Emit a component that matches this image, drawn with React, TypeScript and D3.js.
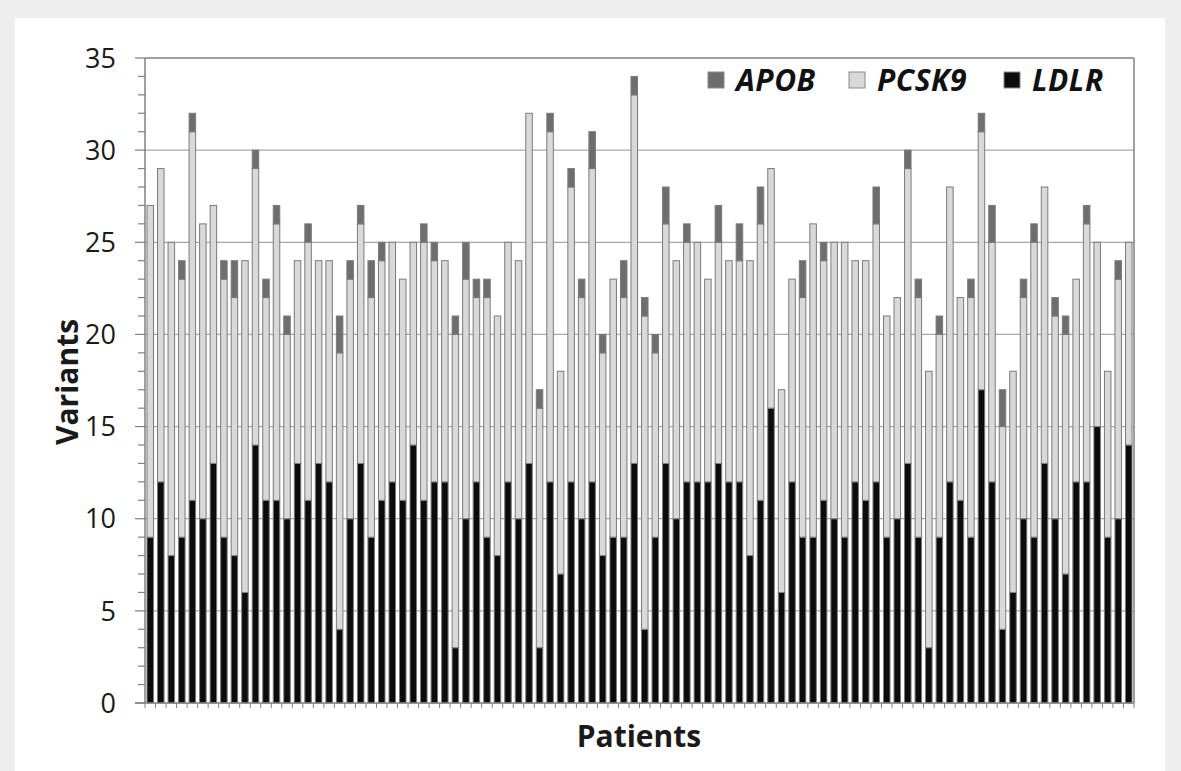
import React from "react";
import * as d3 from "d3";

// values, one entry per patient
const ldlr = [9, 12, 8, 9, 11, 10, 13, 9, 8, 6, 14, 11, 11, 10, 13, 11, 13, 12, 4, 10, 13, 9, 11, 12, 11, 14, 11, 12, 12, 3, 10, 12, 9, 8, 12, 10, 13, 3, 12, 7, 12, 10, 12, 8, 9, 9, 13, 4, 9, 13, 10, 12, 12, 12, 13, 12, 12, 8, 11, 16, 6, 12, 9, 9, 11, 10, 9, 12, 11, 12, 9, 10, 13, 9, 3, 9, 12, 11, 9, 17, 12, 4, 6, 10, 9, 13, 10, 7, 12, 12, 15, 9, 10, 14];
const pcsk9 = [18, 17, 17, 14, 20, 16, 14, 14, 14, 18, 15, 11, 15, 10, 11, 14, 11, 12, 15, 13, 13, 13, 13, 13, 12, 11, 14, 12, 12, 17, 13, 10, 13, 13, 13, 14, 19, 13, 19, 11, 16, 12, 17, 11, 14, 13, 20, 17, 10, 13, 14, 13, 13, 11, 12, 12, 12, 16, 15, 13, 11, 11, 13, 17, 13, 15, 16, 12, 13, 14, 12, 12, 16, 13, 15, 11, 16, 11, 13, 14, 13, 11, 12, 12, 16, 15, 11, 13, 11, 14, 10, 9, 13, 11];
const apob = [0, 0, 0, 1, 1, 0, 0, 1, 2, 0, 1, 1, 1, 1, 0, 1, 0, 0, 2, 1, 1, 2, 1, 0, 0, 0, 1, 1, 0, 1, 2, 1, 1, 0, 0, 0, 0, 1, 1, 0, 1, 1, 2, 1, 0, 2, 1, 1, 1, 2, 0, 1, 0, 0, 2, 0, 2, 0, 2, 0, 0, 0, 2, 0, 1, 0, 0, 0, 0, 2, 0, 0, 1, 1, 0, 1, 0, 0, 1, 1, 2, 2, 0, 1, 1, 0, 1, 1, 0, 1, 0, 0, 1, 0];
const yTicks = [0, 5, 10, 15, 20, 25, 30, 35];
const genes = ["LDLR", "PCSK9", "APOB"];
const legendOrder = ["APOB", "PCSK9", "LDLR"];

const W = 1181;
const H = 771;
const margin = { left: 145, right: 1134, top: 58, bottom: 703 };
const colors = { LDLR: "#0c0c0c", PCSK9: "#d9d9d9", APOB: "#6e6e6e" };
const font = "'Open Sans', sans-serif";

export default function App() {
  const patients = ldlr.map((_, i) => i);
  const rows = patients.map((i) => ({ LDLR: ldlr[i], PCSK9: pcsk9[i], APOB: apob[i] }));

  const x = d3
    .scaleBand()
    .domain(patients)
    .range([margin.left, margin.right])
    .paddingInner(0.38)
    .paddingOuter(0.19);

  const y = d3.scaleLinear().domain([0, 35]).range([margin.bottom, margin.top]);

  const series = d3.stack().keys(genes)(rows);
  const minor = d3.range(0, 36);
  const step = x.step();
  const bounds = d3.range(0, patients.length + 1).map((i) => margin.left + i * step);

  return (
    <svg width={W} height={H} style={{ position: "absolute", left: 0, top: 0, display: "block" }}>
      <rect x={0} y={0} width={W} height={H} fill="#eeeeee" />
      <rect x={15} y={18} width={1150} height={H - 18} fill="#ffffff" />

      {/* grid */}
      {yTicks.slice(1, -1).map((t) => (
        <line key={t} x1={margin.left} x2={margin.right} y1={y(t)} y2={y(t)} stroke="#a8a8a8" strokeWidth={1.2} />
      ))}

      {/* bars */}
      {series.map((s) => (
        <g key={s.key} fill={colors[s.key]}>
          {s.map((d, i) =>
            d[1] - d[0] > 0 ? (
              <rect
                key={i}
                x={x(i)}
                y={y(d[1])}
                width={x.bandwidth()}
                height={y(d[0]) - y(d[1])}
                stroke="#7b7b7b"
                strokeWidth={1}
              />
            ) : null
          )}
        </g>
      ))}

      {/* frame */}
      <line x1={margin.left} x2={margin.right} y1={margin.top} y2={margin.top} stroke="#808080" strokeWidth={1.5} />
      <line x1={margin.right} x2={margin.right} y1={margin.top} y2={margin.bottom} stroke="#808080" strokeWidth={1.5} />
      <line x1={margin.left} x2={margin.left} y1={margin.top} y2={margin.bottom} stroke="#808080" strokeWidth={1.5} />
      <line x1={margin.left - 10} x2={margin.right} y1={margin.bottom} y2={margin.bottom} stroke="#808080" strokeWidth={1.5} />

      {/* y ticks */}
      {minor.map((t) => (
        <line
          key={t}
          x1={t % 5 === 0 ? margin.left - 10 : margin.left - 7}
          x2={margin.left}
          y1={y(t)}
          y2={y(t)}
          stroke="#808080"
          strokeWidth={1.2}
        />
      ))}
      {yTicks.map((t) => (
        <text key={t} x={116} y={y(t)} dy="0.36em" textAnchor="end" fontFamily={font} fontSize={27} fill="#1a1a1a">
          {t}
        </text>
      ))}

      {/* x ticks between patients */}
      {bounds.map((b, i) => (
        <line key={i} x1={b} x2={b} y1={margin.bottom} y2={margin.bottom + 5} stroke="#808080" strokeWidth={1} />
      ))}

      {/* axis titles */}
      <text
        transform={`translate(78,382) rotate(-90)`}
        textAnchor="middle"
        fontFamily={font}
        fontWeight="bold"
        fontSize={30}
        fill="#1a1a1a"
      >
        Variants
      </text>
      <text x={639} y={747} textAnchor="middle" fontFamily={font} fontWeight="bold" fontSize={30} fill="#1a1a1a">
        Patients
      </text>

      {/* legend */}
      {legendOrder.map((g, i) => {
        const lx = [708, 849, 1004][i];
        return (
          <g key={g}>
            <rect x={lx} y={72} width={16} height={16} fill={colors[g]} stroke="#8a8a8a" strokeWidth={1} />
            <text
              x={lx + 28}
              y={91}
              fontFamily={font}
              fontWeight="bold"
              fontStyle="italic"
              fontSize={30}
              letterSpacing={0.5}
              fill="#111"
            >
              {g}
            </text>
          </g>
        );
      })}
    </svg>
  );
}
